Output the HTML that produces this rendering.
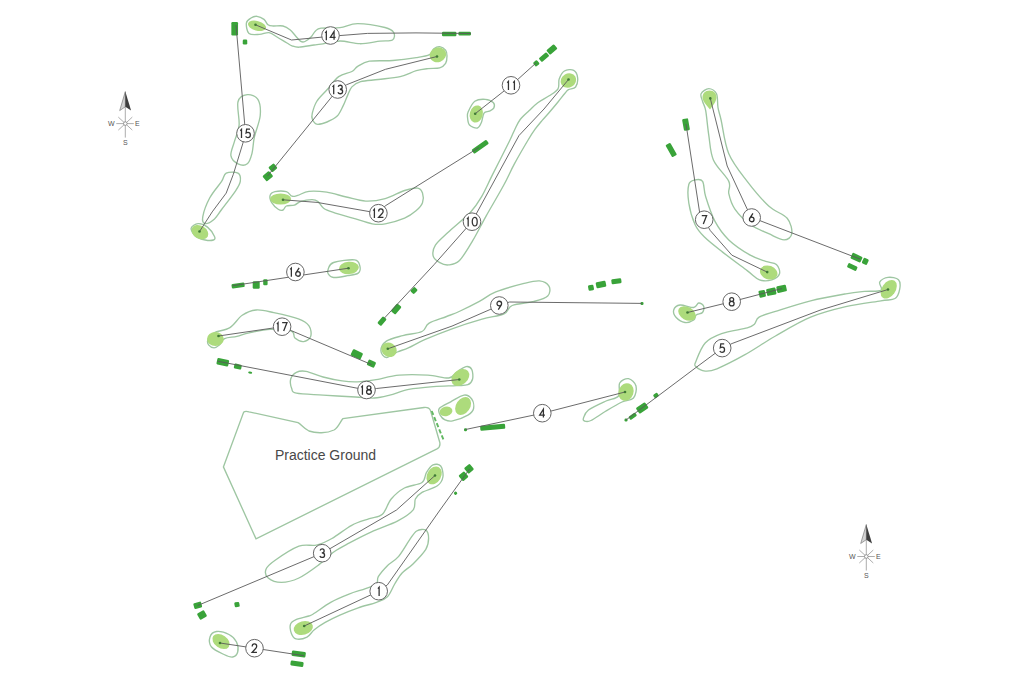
<!DOCTYPE html>
<html><head><meta charset="utf-8"><title>Golf Course Map</title>
<style>
html,body{margin:0;padding:0;background:#fff;}
body{width:1024px;height:683px;overflow:hidden;font-family:"Liberation Sans",sans-serif;}
svg{display:block;}
</style></head><body>
<svg width="1024" height="683" viewBox="0 0 1024 683">
<rect width="1024" height="683" fill="#fff"/>
<g fill="none" stroke="#9ec6a2" stroke-width="1.35">
<path d="M290.5,624.3C291.27,622.02 292.95,621.08 296,619.7C299.05,618.32 305.75,617.07 308.8,616C311.85,614.93 310.65,615.58 314.3,613.3C317.95,611.02 324.92,605.5 330.7,602.3C336.48,599.1 343.2,596.38 349,594.1C354.8,591.82 360.92,590.28 365.5,588.6C370.08,586.92 374.37,585.98 376.5,584C378.63,582.02 376.48,579.75 378.3,576.7C380.12,573.65 384.05,569.05 387.4,565.7C390.75,562.35 394.73,560.87 398.4,556.6C402.07,552.33 406.35,544.37 409.4,540.1C412.45,535.83 413.97,532.67 416.7,531C419.43,529.33 423.82,528.88 425.8,530.1C427.78,531.32 428.6,535.1 428.6,538.3C428.6,541.5 428.4,545.03 425.8,549.3C423.2,553.57 416.95,559.95 413,563.9C409.05,567.85 405.15,569.65 402.1,573C399.05,576.35 397.15,580.03 394.7,584C392.25,587.97 390.43,593.75 387.4,596.8C384.37,599.85 381.37,600.47 376.5,602.3C371.63,604.13 364.3,605.67 358.2,607.8C352.1,609.93 345.4,612.67 339.9,615.1C334.4,617.53 329.47,619.97 325.2,622.4C320.93,624.83 317.33,627.25 314.3,629.7C311.27,632.15 310.05,635.57 307,637.1C303.95,638.63 298.6,639.52 296,638.9C293.4,638.28 292.32,635.83 291.4,633.4C290.48,630.97 289.73,626.58 290.5,624.3Z"/>
<path d="M210,637C210.83,634.42 213.33,631.92 216.5,631.5C219.67,631.08 225.67,632.75 229,634.5C232.33,636.25 235.05,639.08 236.5,642C237.95,644.92 238.33,649.5 237.7,652C237.07,654.5 234.98,656.58 232.7,657C230.42,657.42 227.53,656.17 224,654.5C220.47,652.83 213.83,649.92 211.5,647C209.17,644.08 209.17,639.58 210,637Z"/>
<path d="M266,569.3C267.1,566.38 269.32,564.35 274.8,560.5C280.28,556.65 291.95,548.77 298.9,546.2C305.85,543.63 311,546.38 316.5,545.1C322,543.82 326.03,541.8 331.9,538.5C337.77,535.2 345.47,528.6 351.7,525.3C357.93,522 364.18,520.53 369.3,518.7C374.42,516.87 378.75,517.58 382.4,514.3C386.05,511.02 387.53,503.38 391.2,499C394.87,494.62 399.27,490.75 404.4,488C409.53,485.25 418.33,485.07 422,482.5C425.67,479.93 424.57,475.53 426.4,472.6C428.23,469.67 430.62,466 433,464.9C435.38,463.8 439.05,463.98 440.7,466C442.35,468.02 443.45,473.7 442.9,477C442.35,480.3 440.88,483.23 437.4,485.8C433.92,488.37 425.67,490.2 422,492.4C418.33,494.6 416.87,496.08 415.4,499C413.93,501.92 416.13,506.25 413.2,509.9C410.27,513.55 404.75,517.23 397.8,520.9C390.85,524.57 379.55,528.23 371.5,531.9C363.45,535.57 355.73,539.6 349.5,542.9C343.27,546.2 339.23,548.03 334.1,551.7C328.97,555.37 324.57,560.52 318.7,564.9C312.83,569.28 305.12,575.08 298.9,578C292.68,580.92 286.52,582.4 281.4,582.4C276.28,582.4 270.77,580.18 268.2,578C265.63,575.82 264.9,572.22 266,569.3Z"/>
<path d="M583.5,418C584.17,416.17 584.75,412.83 588.5,410C592.25,407.17 601,403.33 606,401C611,398.67 616.22,399 618.5,396C620.78,393 618.03,385.88 619.7,383C621.37,380.12 625.78,378.2 628.5,378.7C631.22,379.2 635.17,382.78 636,386C636.83,389.22 635.83,395.33 633.5,398C631.17,400.67 626.58,399.83 622,402C617.42,404.17 611.17,407.92 606,411C600.83,414.08 594.58,418.83 591,420.5C587.42,422.17 585.75,421.42 584.5,421C583.25,420.58 582.83,419.83 583.5,418Z"/>
<path d="M695.8,361.7C697.37,357.8 700.9,347.68 705.2,343C709.5,338.32 714.58,336.13 721.6,333.6C728.62,331.07 741.83,329.37 747.3,327.8C752.77,326.23 752.43,325.97 754.4,324.2C756.37,322.43 755.58,319.33 759.1,317.2C762.62,315.07 766.92,314.13 775.5,311.4C784.08,308.67 798.88,303.73 810.6,300.8C822.32,297.87 836.82,295.37 845.8,293.8C854.78,292.23 858.65,291.98 864.5,291.4C870.35,290.82 878.37,291.85 880.9,290.3C883.43,288.75 878.52,284.25 879.7,282.1C880.88,279.95 884.87,277.8 888,277.4C891.13,277 896.55,277.75 898.5,279.7C900.45,281.65 900.28,285.97 899.7,289.1C899.12,292.23 898.13,296.55 895,298.5C891.87,300.45 889.1,299.43 880.9,300.8C872.7,302.17 857.52,303.97 845.8,306.7C834.08,309.43 822.32,312.32 810.6,317.2C798.88,322.08 786.43,329.75 775.5,336C764.57,342.25 754.77,349.23 745,354.7C735.23,360.17 723.53,366.07 716.9,368.8C710.27,371.53 708.72,371.5 705.2,371.1C701.68,370.7 697.37,367.97 695.8,366.4C694.23,364.83 694.23,365.6 695.8,361.7Z"/>
<path d="M701.1,93.8C702.13,91.65 706.23,88.6 708.8,88.6C711.37,88.6 714.97,90.62 716.5,93.8C718.03,96.98 717.23,103.33 718,107.7C718.77,112.07 719.3,112.32 721.1,120C722.9,127.68 724.45,143.57 728.8,153.8C733.15,164.03 740.55,172.7 747.2,181.4C753.85,190.1 762.03,199.85 768.7,206C775.37,212.15 783.35,213.68 787.2,218.3C791.05,222.92 792.32,230.1 791.8,233.7C791.28,237.3 787.95,239.9 784.1,239.9C780.25,239.9 774.33,236.27 768.7,233.7C763.07,231.13 755.93,228.6 750.3,224.5C744.67,220.4 738.48,214.23 734.9,209.1C731.32,203.97 729.82,198.32 728.8,193.7C727.78,189.08 731.37,187.03 728.8,181.4C726.23,175.77 716.73,167.58 713.4,159.9C710.07,152.22 710.08,143.5 708.8,135.3C707.52,127.1 706.73,116.33 705.7,110.7C704.67,105.07 703.37,104.32 702.6,101.5C701.83,98.68 700.07,95.95 701.1,93.8Z"/>
<path d="M688.8,184.5C689.83,180.67 692.7,180.52 695,180C697.3,179.48 700.82,178.6 702.6,181.4C704.38,184.2 703.63,190.13 705.7,196.8C707.77,203.47 711.15,214.22 715,221.4C718.85,228.58 722.92,234.27 728.8,239.9C734.68,245.53 744.15,251.62 750.3,255.2C756.45,258.78 761.35,259.87 765.7,261.4C770.05,262.93 774.1,262.35 776.4,264.4C778.7,266.45 780.27,271.13 779.5,273.7C778.73,276.27 775.13,278.78 771.8,279.8C768.47,280.82 763.6,281.33 759.5,279.8C755.4,278.27 753.35,275.22 747.2,270.6C741.05,265.98 729.77,257.73 722.6,252.1C715.43,246.47 708.8,241.4 704.2,236.8C699.6,232.2 697.57,230.13 695,224.5C692.43,218.87 689.83,209.67 688.8,203C687.77,196.33 687.77,188.33 688.8,184.5Z"/>
<path d="M673.7,310C674.33,307.92 676.67,305.42 680,305C683.33,304.58 690.58,307.83 693.7,307.5C696.82,307.17 697.03,303.22 698.7,303C700.37,302.78 703.07,304.62 703.7,306.2C704.33,307.78 703.75,311.03 702.5,312.5C701.25,313.97 697.67,313.75 696.2,315C694.73,316.25 695.57,318.75 693.7,320C691.83,321.25 687.92,322.92 685,322.5C682.08,322.08 678.08,319.58 676.2,317.5C674.32,315.42 673.07,312.08 673.7,310Z"/>
<path d="M380.9,350.7C380.9,347.97 382.75,343.62 386.4,341.1C390.05,338.58 396.87,337.2 402.8,335.6C408.73,334 417.67,333.55 422,331.5C426.33,329.45 424.7,325.8 428.8,323.3C432.9,320.8 441.37,318.55 446.6,316.5C451.83,314.45 454.73,313.52 460.2,311C465.67,308.48 473.47,304.58 479.4,301.4C485.33,298.22 488.52,294.85 495.8,291.9C503.08,288.95 515.82,285.53 523.1,283.7C530.38,281.87 535.17,280.45 539.5,280.9C543.83,281.35 547.73,283.88 549.1,286.4C550.47,288.92 550.2,293.5 547.7,296C545.2,298.5 540.02,299.82 534.1,301.4C528.18,302.98 517.22,303.43 512.2,305.5C507.18,307.57 509.02,311.52 504,313.8C498.98,316.08 490.77,316.7 482.1,319.2C473.43,321.7 461.57,325.38 452,328.8C442.43,332.22 431.98,336.52 424.7,339.7C417.42,342.88 412.87,345.85 408.3,347.9C403.73,349.95 400.95,350.4 397.3,352C393.65,353.6 389.13,357.72 386.4,357.5C383.67,357.28 380.9,353.43 380.9,350.7Z"/>
<path d="M559.2,79C560.27,76.03 561.98,72.45 564.4,71C566.82,69.55 571.5,69.2 573.7,70.3C575.9,71.4 577.28,74.82 577.6,77.6C577.92,80.38 577.12,84.98 575.6,87C574.08,89.02 570.27,88.67 568.5,89.7C566.73,90.73 566.75,91.15 565,93.2C563.25,95.25 560.63,98.78 558,102C555.37,105.22 551.83,109.43 549.2,112.5C546.57,115.57 544.55,117.62 542.2,120.4C539.85,123.18 537.45,125.93 535.1,129.2C532.75,132.47 531.55,134.22 528.1,140C524.65,145.78 518.52,156.27 514.4,163.9C510.28,171.53 508.17,177.02 503.4,185.8C498.63,194.58 490.92,207.45 485.8,216.6C480.68,225.75 477.08,233.38 472.7,240.7C468.32,248.02 463.53,256.47 459.5,260.5C455.47,264.53 451.78,264.53 448.5,264.9C445.22,265.27 442.35,264.17 439.8,262.7C437.25,261.23 433.93,259.03 433.2,256.1C432.47,253.17 432.85,249.13 435.4,245.1C437.95,241.07 442.65,237.38 448.5,231.9C454.35,226.42 465,218.05 470.5,212.2C476,206.35 477.85,203.02 481.5,196.8C485.15,190.58 487.73,184.2 492.4,174.9C497.07,165.6 505.75,148.62 509.5,141C513.25,133.38 513.12,132.78 514.9,129.2C516.68,125.62 517.85,122.57 520.2,119.5C522.55,116.43 526.07,113.58 529,110.8C531.93,108.02 534.43,105.3 537.8,102.8C541.17,100.3 545.83,98.13 549.2,95.8C552.57,93.47 556.33,91.6 558,88.8C559.67,86 558.13,81.97 559.2,79Z"/>
<path d="M468.2,111.8C469.42,109.17 471.95,103.38 474.8,101.3C477.65,99.22 482.23,99.08 485.3,99.3C488.37,99.52 491.77,101.17 493.2,102.6C494.63,104.03 494.55,106.47 493.9,107.9C493.25,109.33 490.95,110.33 489.3,111.2C487.65,112.07 485.32,111.23 484,113.1C482.68,114.97 482.5,119.92 481.4,122.4C480.3,124.88 479.38,127.57 477.4,128C475.42,128.43 471.15,126.82 469.5,125C467.85,123.18 467.72,119.3 467.5,117.1C467.28,114.9 466.98,114.43 468.2,111.8Z"/>
<path d="M270.1,195.4C270.65,193.57 272.3,192.32 275,191.7C277.7,191.08 283.47,190.95 286.3,191.7C289.13,192.45 290.1,195.58 292,196.2C293.9,196.82 294.87,196.22 297.7,195.4C300.53,194.58 304.15,191.83 309,191.3C313.85,190.77 320.58,191.25 326.8,192.2C333.02,193.15 339.82,195.52 346.3,197C352.78,198.48 359.22,200.83 365.7,201.1C372.18,201.37 378.72,200.37 385.2,198.6C391.68,196.83 399.2,192.25 404.6,190.5C410,188.75 414.62,187.68 417.6,188.1C420.58,188.52 421.68,190.57 422.5,193C423.32,195.43 423.58,199.73 422.5,202.7C421.42,205.67 418.98,208.23 416,210.8C413.02,213.37 409.73,215.93 404.6,218.1C399.47,220.27 390.6,222.85 385.2,223.8C379.8,224.75 377.6,224.75 372.2,223.8C366.8,222.85 359.28,220 352.8,218.1C346.32,216.2 338.17,214.05 333.3,212.4C328.43,210.75 326.15,210.02 323.6,208.2C321.05,206.38 319.9,202.93 318,201.5C316.1,200.07 315.05,199.63 312.2,199.6C309.35,199.57 303.87,200.38 300.9,201.3C297.93,202.22 296.83,204.32 294.4,205.1C291.97,205.88 288.18,205.18 286.3,206C284.42,206.82 284.45,209.47 283.1,210C281.75,210.53 280.1,210.42 278.2,209.2C276.3,207.98 273.05,205 271.7,202.7C270.35,200.4 269.55,197.23 270.1,195.4Z"/>
<path d="M312.3,113.2C313.03,110.27 314.25,105.4 316.7,101.5C319.15,97.6 323.33,93.95 327,89.8C330.67,85.65 334.55,79.65 338.7,76.6C342.85,73.55 348.73,73.2 351.9,71.5C355.07,69.8 354.78,68.12 357.7,66.4C360.62,64.68 363.55,62.18 369.4,61.2C375.25,60.22 384.98,61.1 392.8,60.5C400.62,59.9 410.18,58.58 416.3,57.6C422.42,56.62 426.58,56.07 429.5,54.6C432.42,53.13 432.1,50.13 433.8,48.8C435.5,47.47 437.73,46.37 439.7,46.6C441.67,46.83 444.38,48.62 445.6,50.2C446.82,51.78 447,53.9 447,56.1C447,58.3 446.82,61.45 445.6,63.4C444.38,65.35 442.63,66.93 439.7,67.8C436.77,68.67 431.9,68.12 428,68.6C424.1,69.08 420.93,69.37 416.3,70.7C411.67,72.03 406.55,75.13 400.2,76.6C393.85,78.07 384.8,78.65 378.2,79.5C371.6,80.35 364.98,80.47 360.6,81.7C356.22,82.93 354.08,84.58 351.9,86.9C349.72,89.22 348.97,92.43 347.5,95.6C346.03,98.77 344.82,102.48 343.1,105.9C341.38,109.32 339.88,113.42 337.2,116.1C334.52,118.78 330.42,120.65 327,122C323.58,123.35 319.15,124.68 316.7,124.2C314.25,123.72 313.03,120.93 312.3,119.1C311.57,117.27 311.57,116.13 312.3,113.2Z"/>
<path d="M246.4,23C246.73,20.42 249.23,19.12 251,18C252.77,16.88 254.83,16.07 257,16.3C259.17,16.53 262.17,18 264,19.4C265.83,20.8 266.5,23.6 268,24.7C269.5,25.8 270.5,25.78 273,26C275.5,26.22 280.12,25.33 283,26C285.88,26.67 288.2,28.33 290.3,30C292.4,31.67 293.85,34.1 295.6,36C297.35,37.9 299.23,40.48 300.8,41.4C302.37,42.32 303.3,42.23 305,41.5C306.7,40.77 309.25,38.75 311,37C312.75,35.25 313.83,32.47 315.5,31C317.17,29.53 316.92,28.75 321,28.2C325.08,27.65 333.92,28.45 340,27.7C346.08,26.95 350,23.73 357.5,23.7C365,23.67 378.97,26.03 385,27.5C391.03,28.97 392.45,30.42 393.7,32.5C394.95,34.58 394.78,38.55 392.5,40C390.22,41.45 385.42,40.58 380,41.2C374.58,41.82 366.67,43.73 360,43.7C353.33,43.67 346.5,40.92 340,41C333.5,41.08 325.33,43.53 321,44.2C316.67,44.87 317.67,44.5 314,45C310.33,45.5 302.67,47.07 299,47.2C295.33,47.33 294,46.5 292,45.8C290,45.1 289.5,44.47 287,43C284.5,41.53 280,38.73 277,37C274,35.27 271.92,33.03 269,32.6C266.08,32.17 262.83,34.25 259.5,34.4C256.17,34.55 251.18,35.4 249,33.5C246.82,31.6 246.07,25.58 246.4,23Z"/>
<path d="M247.3,94.7C250.62,94.32 255.75,95.88 257.9,99.4C260.05,102.92 260.78,109.55 260.2,115.8C259.62,122.05 255.77,130.65 254.4,136.9C253.03,143.15 253.18,148.82 252,153.3C250.82,157.78 249.63,162.05 247.3,163.8C244.97,165.55 240.73,165.17 238,163.8C235.27,162.43 231.5,159.3 230.9,155.6C230.3,151.9 233.03,146.67 234.4,141.6C235.77,136.53 238.5,131.85 239.1,125.2C239.7,118.55 236.63,106.78 238,101.7C239.37,96.62 243.98,95.08 247.3,94.7Z"/>
<path d="M226.2,173.2C228.93,171.83 235.65,171.83 238,173.2C240.35,174.57 240.7,178.47 240.3,181.4C239.9,184.33 238.72,186.12 235.6,190.8C232.48,195.48 225.12,204.82 221.6,209.5C218.08,214.18 217.23,216.55 214.5,218.9C211.77,221.25 207.15,223.98 205.2,223.6C203.25,223.22 202.03,220.9 202.8,216.6C203.57,212.3 206.67,203.67 209.8,197.8C212.93,191.93 218.87,185.5 221.6,181.4C224.33,177.3 223.47,174.57 226.2,173.2Z"/>
<path d="M191.1,228.3C191.48,226.15 195.37,223.8 198.1,223.6C200.83,223.4 204.77,224.95 207.5,227.1C210.23,229.25 213.52,234.35 214.5,236.5C215.48,238.65 214.95,239.42 213.4,240C211.85,240.58 208.13,240.58 205.2,240C202.27,239.42 198.15,238.45 195.8,236.5C193.45,234.55 190.72,230.45 191.1,228.3Z"/>
<path d="M328.3,268.7C329.18,266.78 329.2,263.97 333.6,262.5C338,261.03 350.32,259.3 354.7,259.9C359.08,260.5 359.32,263.9 359.9,266.1C360.48,268.3 360.25,271.5 358.2,273.1C356.15,274.7 351.7,274.97 347.6,275.7C343.5,276.43 336.82,277.78 333.6,277.5C330.38,277.22 329.18,275.47 328.3,274C327.42,272.53 327.42,270.62 328.3,268.7Z"/>
<path d="M207.9,339.9C208.78,337.85 210.43,334.85 214.1,332.8C217.77,330.75 225.22,330.52 229.9,327.6C234.58,324.68 237.82,318.23 242.2,315.3C246.58,312.37 250.93,310.45 256.2,310C261.47,309.55 266.77,311.13 273.8,312.6C280.83,314.07 292.53,316.6 298.4,318.8C304.27,321 306.95,322.87 309,325.8C311.05,328.73 311.58,333.77 310.7,336.4C309.82,339.03 306.33,341.32 303.7,341.6C301.07,341.88 296.95,339.85 294.9,338.1C292.85,336.35 295.5,332.57 291.4,331.1C287.3,329.63 277.33,329.02 270.3,329.3C263.27,329.58 254.77,331.62 249.2,332.8C243.63,333.98 241,335.43 236.9,336.4C232.8,337.37 227.53,337.15 224.6,338.6C221.67,340.05 221.05,343.57 219.3,345.1C217.55,346.63 215.85,347.8 214.1,347.8C212.35,347.8 209.83,346.42 208.8,345.1C207.77,343.78 207.02,341.95 207.9,339.9Z"/>
<path d="M290.7,379C291.48,376.3 293.85,373.58 296.4,372.3C298.95,371.02 301.55,370.52 306,371.3C310.45,372.08 317.08,375.4 323.1,377C329.12,378.6 336.38,380.1 342.1,380.9C347.82,381.7 352,381.97 357.4,381.8C362.8,381.63 367.52,381.02 374.5,379.9C381.48,378.78 390.4,375.9 399.3,375.1C408.2,374.3 419.65,374.62 427.9,375.1C436.15,375.58 444.05,378.47 448.8,378C453.55,377.53 453.53,374.2 456.4,372.3C459.27,370.4 463.45,367.08 466,366.6C468.55,366.12 470.6,367.33 471.7,369.4C472.8,371.47 473.23,376.45 472.6,379C471.97,381.55 470.6,383.6 467.9,384.7C465.2,385.8 462.12,385.28 456.4,385.6C450.68,385.92 441.53,385.97 433.6,386.6C425.67,387.23 416.1,387.98 408.8,389.4C401.5,390.82 395.52,393.67 389.8,395.1C384.08,396.53 380.22,397.68 374.5,398C368.78,398.32 364.07,397.48 355.5,397C346.93,396.52 332.95,395.73 323.1,395.1C313.25,394.47 301.63,394.3 296.4,393.2C291.17,392.1 292.65,390.87 291.7,388.5C290.75,386.13 289.92,381.7 290.7,379Z"/>
<path d="M439.3,408.5C441.05,406.28 446.58,404.03 450.7,401.8C454.82,399.57 460.5,395.57 464,395.1C467.5,394.63 470.1,396.77 471.7,399C473.3,401.23 474.23,405.82 473.6,408.5C472.97,411.18 471.4,413.03 467.9,415.1C464.4,417.17 456.42,420.1 452.6,420.9C448.78,421.7 447.07,420.87 445,419.9C442.93,418.93 441.15,417 440.2,415.1C439.25,413.2 437.55,410.72 439.3,408.5Z"/>
<path d="M249,411.8 L298,422.6 C301,424 303,428 309,431 C316,433.6 327,433.4 334,430 C338.5,427.5 340.5,421 343,418.6 L424,407.5 Q429,407 430.5,410.5 L439.8,442.5 Q440.6,447 437,448.9 L256,538.8 L223.4,466.9 L243.6,412.3 Q245,410.8 249,411.8 Z"/>
</g>
<path d="M431.7,411 L443.6,440" stroke="#62b862" stroke-width="1.9" stroke-dasharray="4.3,2.3" fill="none"/>
<g fill="#addb7c">
<ellipse cx="303.3" cy="628" rx="9.8" ry="6.8" transform="rotate(-15 303.3 628)"/>
<ellipse cx="221" cy="641.5" rx="9.5" ry="6.5" transform="rotate(35 221 641.5)"/>
<ellipse cx="434.1" cy="475.4" rx="7" ry="9.5" transform="rotate(30 434.1 475.4)"/>
<ellipse cx="626" cy="392" rx="7.5" ry="9" transform="rotate(20 626 392)"/>
<ellipse cx="888.7" cy="289.3" rx="6.8" ry="10.3" transform="rotate(35 888.7 289.3)"/>
<ellipse cx="768.7" cy="272.5" rx="9" ry="6.8" transform="rotate(20 768.7 272.5)"/>
<ellipse cx="687" cy="313.5" rx="9.5" ry="6.5" transform="rotate(30 687 313.5)"/>
<ellipse cx="389" cy="349.8" rx="8" ry="7" transform="rotate(30 389 349.8)"/>
<ellipse cx="568.4" cy="80.5" rx="8" ry="7" transform="rotate(-30 568.4 80.5)"/>
<ellipse cx="476.3" cy="114" rx="6.5" ry="8.7" transform="rotate(15 476.3 114)"/>
<ellipse cx="280.6" cy="199" rx="10.5" ry="5.5" transform="rotate(0 280.6 199)"/>
<ellipse cx="437.9" cy="54.8" rx="8.4" ry="7.3" transform="rotate(-20 437.9 54.8)"/>
<ellipse cx="257" cy="25.8" rx="9.3" ry="4.8" transform="rotate(15 257 25.8)"/>
<ellipse cx="199.9" cy="232.2" rx="9" ry="6.5" transform="rotate(30 199.9 232.2)"/>
<ellipse cx="348.9" cy="267.9" rx="10" ry="6.2" transform="rotate(-5 348.9 267.9)"/>
<ellipse cx="215.4" cy="339" rx="8.4" ry="7" transform="rotate(0 215.4 339)"/>
<ellipse cx="460.3" cy="377.5" rx="10" ry="7.3" transform="rotate(-40 460.3 377.5)"/>
<ellipse cx="446" cy="411.4" rx="6.5" ry="4.8" transform="rotate(-15 446 411.4)"/>
<ellipse cx="463.1" cy="406" rx="7" ry="9.7" transform="rotate(35 463.1 406)"/>
<path d="M709.5,90.5 C714,90.5 716.5,93.5 716.5,97.5 C716.5,101.5 712.5,106 710,109.5 C707,105.5 702.5,101.5 702.5,97.5 C702.5,93.5 705,90.5 709.5,90.5 Z"/>
</g>
<g fill="#39a339">
<rect x="465.35" y="465.15" width="7.3" height="7.3" rx="1.2" transform="rotate(-40 469 468.8)"/>
<rect x="459.85" y="472.65" width="7.3" height="7.3" rx="1.2" transform="rotate(-40 463.5 476.3)"/>
<rect x="454.1" y="491.7" width="3" height="3" rx="1.2" transform="rotate(-40 455.6 493.2)"/>
<rect x="291.7" y="651.25" width="14" height="5.5" rx="1.2" transform="rotate(8 298.7 654)"/>
<rect x="290.5" y="661.2" width="13" height="5" rx="1.2" transform="rotate(8 297 663.7)"/>
<rect x="193.7" y="602.3" width="8" height="6" rx="1.2" transform="rotate(-15 197.7 605.3)"/>
<rect x="198" y="611.5" width="8" height="7" rx="1.2" transform="rotate(-30 202 615)"/>
<rect x="234.5" y="602.1" width="5" height="5" rx="1.2" transform="rotate(-10 237 604.6)"/>
<rect x="464" y="428.2" width="3" height="3" rx="1.2" transform="rotate(0 465.5 429.7)"/>
<rect x="480.2" y="424.8" width="25" height="5" rx="1.2" transform="rotate(-5 492.7 427.3)"/>
<rect x="653.5" y="393.5" width="5" height="4" rx="1.2" transform="rotate(-35 656 395.5)"/>
<rect x="636.7" y="404.5" width="11" height="7" rx="1.2" transform="rotate(-35 642.2 408)"/>
<rect x="628.7" y="414.2" width="8" height="4" rx="1.2" transform="rotate(-35 632.7 416.2)"/>
<rect x="624.5" y="418.5" width="3" height="3" rx="1.2" transform="rotate(0 626 420)"/>
<rect x="851" y="254.55" width="11" height="6.3" rx="1.2" transform="rotate(25 856.5 257.7)"/>
<rect x="862.55" y="258.4" width="5.5" height="6" rx="1.2" transform="rotate(25 865.3 261.4)"/>
<rect x="847.3" y="264.6" width="10" height="4.8" rx="1.2" transform="rotate(25 852.3 267)"/>
<rect x="683" y="118.6" width="6" height="12" rx="1.2" transform="rotate(-10 686 124.6)"/>
<rect x="668.45" y="143" width="5.5" height="14" rx="1.2" transform="rotate(-30 671.2 150)"/>
<rect x="758.95" y="290.3" width="6.5" height="7" rx="1.2" transform="rotate(-12 762.2 293.8)"/>
<rect x="766.55" y="288.2" width="9.5" height="7" rx="1.2" transform="rotate(-12 771.3 291.7)"/>
<rect x="776.7" y="285.4" width="9.8" height="6.8" rx="1.2" transform="rotate(-12 781.6 288.8)"/>
<rect x="640.5" y="301.9" width="3" height="3" rx="1.2" transform="rotate(0 642 303.4)"/>
<rect x="588.25" y="285.05" width="5.5" height="5.5" rx="1.2" transform="rotate(-10 591 287.8)"/>
<rect x="596" y="281.5" width="10" height="6" rx="1.2" transform="rotate(-12 601 284.5)"/>
<rect x="611.4" y="278.7" width="10" height="5" rx="1.2" transform="rotate(-8 616.4 281.2)"/>
<rect x="411" y="288" width="6" height="5" rx="1.2" transform="rotate(-45 414 290.5)"/>
<rect x="391.2" y="306" width="10" height="6" rx="1.2" transform="rotate(-50 396.2 309)"/>
<rect x="377.5" y="318.7" width="9" height="5" rx="1.2" transform="rotate(-50 382 321.2)"/>
<rect x="533.8" y="60.8" width="5" height="5" rx="1.2" transform="rotate(-40 536.3 63.3)"/>
<rect x="539" y="54.6" width="10" height="5" rx="1.2" transform="rotate(-40 544 57.1)"/>
<rect x="546.9" y="46.5" width="10" height="6" rx="1.2" transform="rotate(-40 551.9 49.5)"/>
<rect x="471.2" y="144.2" width="18" height="5" rx="1.2" transform="rotate(-35 480.2 146.7)"/>
<rect x="263.55" y="172.7" width="8.5" height="7" rx="1.2" transform="rotate(-40 267.8 176.2)"/>
<rect x="269.4" y="164.65" width="7" height="6.3" rx="1.2" transform="rotate(-40 272.9 167.8)"/>
<rect x="441.95" y="31.75" width="14.5" height="4.5" rx="1.2" transform="rotate(0 449.2 34)"/>
<rect x="458.45" y="31.7" width="12.5" height="3.8" rx="1.2" transform="rotate(0 464.7 33.6)"/>
<rect x="231.35" y="21.95" width="6.7" height="13.5" rx="1.2" transform="rotate(0 234.7 28.7)"/>
<rect x="242.75" y="39.5" width="4.5" height="5" rx="1.2" transform="rotate(0 245 42)"/>
<rect x="231.6" y="283.25" width="13" height="4.5" rx="1.2" transform="rotate(-8 238.1 285.5)"/>
<rect x="252.7" y="281.25" width="7" height="7.5" rx="1.2" transform="rotate(0 256.2 285)"/>
<rect x="263.2" y="279.2" width="4.4" height="6" rx="1.2" transform="rotate(0 265.4 282.2)"/>
<rect x="351.3" y="350.8" width="11" height="7" rx="1.2" transform="rotate(25 356.8 354.3)"/>
<rect x="367.4" y="360.6" width="8" height="6" rx="1.2" transform="rotate(25 371.4 363.6)"/>
<rect x="216.8" y="358.95" width="12" height="6.5" rx="1.2" transform="rotate(12 222.8 362.2)"/>
<rect x="234.05" y="364.1" width="7.5" height="5" rx="1.2" transform="rotate(12 237.8 366.6)"/>
<rect x="248.2" y="371.7" width="4" height="2" rx="1.2" transform="rotate(10 250.2 372.7)"/>
</g>
<g fill="none" stroke="#5a5a5a" stroke-width="0.9">
<path d="M304.2,626 L378.7,591.2 L387.4,584.9 L440,510 L469.5,469"/>
<path d="M220,643 L254.5,648.2 L304,655.7"/>
<path d="M197.7,605.5 L322.2,553.2 L396.5,510 L435,475.5"/>
<path d="M465.5,429.5 L542.3,413.3 L625,392"/>
<path d="M626,420 L696,367.5 L722.2,348.1 L732.1,343.5 L820,310.2 L888,289.5"/>
<path d="M710.3,98.4 L727.2,166 L747.2,209.1 L751.7,217.5 L852.5,256.2 L860,259"/>
<path d="M686,124 L699.6,212.2 L704.2,219.7 L710.3,230.6 L731.9,255.2 L767.2,272.1"/>
<path d="M687.5,312.5 L731.7,301.7 L782,288.5"/>
<path d="M387.8,348.8 L452,326.1 L499.3,305.5 L509.5,302 L642,303.4"/>
<path d="M568.5,79.5 L544,109 L519,135.5 L472,221.7 L434,264.7 L384,318.5"/>
<path d="M475.2,113.7 L511,85.5 L536,63"/>
<path d="M283,199.8 L317.1,202.4 L378.4,213.2 L385.2,205.9 L479,147.5"/>
<path d="M267.5,176 L337.7,89.5 L346.7,84.7 L385.5,69.3 L437,56.5"/>
<path d="M255.5,24.8 L291.5,40 L330.5,36.3 L367.5,33.4 L416,32.9 L471,33.5"/>
<path d="M236,25 L245.5,133.2 L242.7,143.9 L233.3,174.4 L226.2,193.1 L212.2,211.9 L199.5,231.5"/>
<path d="M232.5,285.7 L348.5,268.2"/>
<path d="M218.5,336 L282.1,326.7 L291.4,330.7 L371.4,364.5"/>
<path d="M217.5,361.2 L366.5,390 L376.4,388.5 L459.3,379.5"/>
</g>
<g fill="#3f7a35">
<circle cx="304.2" cy="626" r="1.3"/>
<circle cx="220" cy="643" r="1.3"/>
<circle cx="435" cy="475.5" r="1.3"/>
<circle cx="625" cy="392" r="1.3"/>
<circle cx="888" cy="289.5" r="1.3"/>
<circle cx="710.3" cy="98.4" r="1.3"/>
<circle cx="767.2" cy="272.1" r="1.3"/>
<circle cx="687.5" cy="312.5" r="1.3"/>
<circle cx="387.8" cy="348.8" r="1.3"/>
<circle cx="568.5" cy="79.5" r="1.3"/>
<circle cx="475.2" cy="113.7" r="1.3"/>
<circle cx="283" cy="199.8" r="1.3"/>
<circle cx="437" cy="56.5" r="1.3"/>
<circle cx="255.5" cy="24.8" r="1.3"/>
<circle cx="199.5" cy="231.5" r="1.3"/>
<circle cx="348.5" cy="268.2" r="1.3"/>
<circle cx="218.5" cy="336" r="1.3"/>
<circle cx="459.3" cy="379.5" r="1.3"/>
</g>
<g fill="#fff" stroke="#666666" stroke-width="1">
<circle cx="378.7" cy="591.2" r="8.8"/>
<circle cx="254.5" cy="648.2" r="8.8"/>
<circle cx="322.2" cy="553.2" r="8.8"/>
<circle cx="542.3" cy="413.2" r="8.8"/>
<circle cx="722.2" cy="348.1" r="8.8"/>
<circle cx="751.7" cy="217.5" r="8.8"/>
<circle cx="704.2" cy="219.7" r="8.8"/>
<circle cx="731.7" cy="301.7" r="8.8"/>
<circle cx="499.3" cy="305.5" r="8.8"/>
<circle cx="472" cy="221.7" r="8.8"/>
<circle cx="511" cy="85.3" r="8.8"/>
<circle cx="378.4" cy="213.2" r="8.8"/>
<circle cx="337.7" cy="89.5" r="8.8"/>
<circle cx="330.5" cy="35.5" r="8.8"/>
<circle cx="245.5" cy="133.3" r="8.8"/>
<circle cx="295.4" cy="272" r="8.8"/>
<circle cx="282.1" cy="326.7" r="8.8"/>
<circle cx="366.5" cy="390" r="8.8"/>
</g>
<g fill="none" stroke="#333333" stroke-width="1.5" stroke-linecap="butt" stroke-linejoin="miter">
<path transform="translate(376.91 586.95) scale(0.85)" d="M1.2,2.0 L2.6,0.4 L2.6,10.6"/>
<path transform="translate(251.69 643.95) scale(0.85)" d="M0.6,2.9 C0.6,1.2 1.7,0 3.2,0 C4.8,0 5.9,1.1 5.9,2.7 C5.9,3.9 5.3,4.7 4.4,5.6 L0.5,9.9 L6.2,9.9"/>
<path transform="translate(319.39 548.95) scale(0.85)" d="M0.8,1.8 C1.3,0.6 2.2,0 3.3,0 C4.7,0 5.6,1 5.6,2.4 C5.6,3.8 4.5,4.7 2.8,4.7 C4.9,4.7 6.1,5.8 6.1,7.3 C6.1,8.9 4.9,10 3.2,10 C2,10 1,9.3 0.5,8.2"/>
<path transform="translate(539.41 408.95) scale(0.85)" d="M4.7,10 L4.7,0.2 L0.3,7.3 L6.5,7.3"/>
<path transform="translate(719.44 343.85) scale(0.85)" d="M5.6,0.1 L1.6,0.1 L1.0,4.5 C1.6,4.1 2.4,3.9 3.2,3.9 C4.9,3.9 6,5.2 6,7 C6,8.8 4.7,10 3,10 C2,10 1,9.5 0.4,8.6"/>
<path transform="translate(748.85 213.25) scale(0.85)" d="M4.8,0.1 L1.2,5.8 M6.1,7.3 C6.1,8.9 4.9,10 3.4,10 C1.9,10 0.7,8.9 0.7,7.3 C0.7,5.7 1.9,4.6 3.4,4.6 C4.9,4.6 6.1,5.7 6.1,7.3 Z"/>
<path transform="translate(701.44 215.45) scale(0.85)" d="M0.4,0.1 L6.1,0.1 L2.2,10"/>
<path transform="translate(728.9 297.45) scale(0.85)" d="M5.6,2.4 C5.6,3.7 4.6,4.7 3.3,4.7 C2,4.7 1,3.7 1,2.4 C1,1.1 2,0.1 3.3,0.1 C4.6,0.1 5.6,1.1 5.6,2.4 Z M6.1,7.3 C6.1,8.8 4.9,10 3.3,10 C1.7,10 0.5,8.8 0.5,7.3 C0.5,5.8 1.7,4.7 3.3,4.7 C4.9,4.7 6.1,5.8 6.1,7.3 Z"/>
<path transform="translate(496.58 301.25) scale(0.85)" d="M5.9,2.7 C5.9,4.3 4.7,5.4 3.2,5.4 C1.7,5.4 0.5,4.3 0.5,2.7 C0.5,1.1 1.7,0 3.2,0 C4.7,0 5.9,1.1 5.9,2.7 Z M5.6,4.2 L2.0,9.9"/>
<path transform="translate(465.96 217.45) scale(0.85)" d="M1.2,2.0 L2.6,0.4 L2.6,10.6"/>
<path transform="translate(471.92 217.45) scale(0.85)" d="M3.3,0 C5,0 6.2,2.2 6.2,5 C6.2,7.8 5,10 3.3,10 C1.6,10 0.4,7.8 0.4,5 C0.4,2.2 1.6,0 3.3,0 Z"/>
<path transform="translate(506.24 81.05) scale(0.85)" d="M1.2,2.0 L2.6,0.4 L2.6,10.6"/>
<path transform="translate(512.19 81.05) scale(0.85)" d="M1.2,2.0 L2.6,0.4 L2.6,10.6"/>
<path transform="translate(372.19 208.95) scale(0.85)" d="M1.2,2.0 L2.6,0.4 L2.6,10.6"/>
<path transform="translate(378.14 208.95) scale(0.85)" d="M0.6,2.9 C0.6,1.2 1.7,0 3.2,0 C4.8,0 5.9,1.1 5.9,2.7 C5.9,3.9 5.3,4.7 4.4,5.6 L0.5,9.9 L6.2,9.9"/>
<path transform="translate(331.5 85.25) scale(0.85)" d="M1.2,2.0 L2.6,0.4 L2.6,10.6"/>
<path transform="translate(337.44 85.25) scale(0.85)" d="M0.8,1.8 C1.3,0.6 2.2,0 3.3,0 C4.7,0 5.6,1 5.6,2.4 C5.6,3.8 4.5,4.7 2.8,4.7 C4.9,4.7 6.1,5.8 6.1,7.3 C6.1,8.9 4.9,10 3.2,10 C2,10 1,9.3 0.5,8.2"/>
<path transform="translate(324.12 31.25) scale(0.85)" d="M1.2,2.0 L2.6,0.4 L2.6,10.6"/>
<path transform="translate(330.07 31.25) scale(0.85)" d="M4.7,10 L4.7,0.2 L0.3,7.3 L6.5,7.3"/>
<path transform="translate(239.29 129.05) scale(0.85)" d="M1.2,2.0 L2.6,0.4 L2.6,10.6"/>
<path transform="translate(245.25 129.05) scale(0.85)" d="M5.6,0.1 L1.6,0.1 L1.0,4.5 C1.6,4.1 2.4,3.9 3.2,3.9 C4.9,3.9 6,5.2 6,7 C6,8.8 4.7,10 3,10 C2,10 1,9.5 0.4,8.6"/>
<path transform="translate(289.15 267.75) scale(0.85)" d="M1.2,2.0 L2.6,0.4 L2.6,10.6"/>
<path transform="translate(295.1 267.75) scale(0.85)" d="M4.8,0.1 L1.2,5.8 M6.1,7.3 C6.1,8.9 4.9,10 3.4,10 C1.9,10 0.7,8.9 0.7,7.3 C0.7,5.7 1.9,4.6 3.4,4.6 C4.9,4.6 6.1,5.7 6.1,7.3 Z"/>
<path transform="translate(275.85 322.45) scale(0.85)" d="M1.2,2.0 L2.6,0.4 L2.6,10.6"/>
<path transform="translate(281.8 322.45) scale(0.85)" d="M0.4,0.1 L6.1,0.1 L2.2,10"/>
<path transform="translate(360.21 385.75) scale(0.85)" d="M1.2,2.0 L2.6,0.4 L2.6,10.6"/>
<path transform="translate(366.16 385.75) scale(0.85)" d="M5.6,2.4 C5.6,3.7 4.6,4.7 3.3,4.7 C2,4.7 1,3.7 1,2.4 C1,1.1 2,0.1 3.3,0.1 C4.6,0.1 5.6,1.1 5.6,2.4 Z M6.1,7.3 C6.1,8.8 4.9,10 3.3,10 C1.7,10 0.5,8.8 0.5,7.3 C0.5,5.8 1.7,4.7 3.3,4.7 C4.9,4.7 6.1,5.8 6.1,7.3 Z"/>
</g>
<text x="325.5" y="460" font-family="Liberation Sans, sans-serif" font-size="14" fill="#484848" text-anchor="middle">Practice Ground</text>
<g stroke="#8a8a8a" stroke-width="0.7" fill="none">
<line x1="125.3" y1="106.6" x2="125.3" y2="137.6"/>
<line x1="116.3" y1="123.6" x2="133.8" y2="123.6"/>
<line x1="118.3" y1="117.1" x2="132.3" y2="130.1"/>
<line x1="132.3" y1="117.1" x2="118.3" y2="130.1"/>
</g>
<circle cx="125.3" cy="123.6" r="1.8" fill="#fff" stroke="#777" stroke-width="0.7"/>
<path d="M125.3,91.6 L119.7,110.6 L125.3,106.8 Z" fill="#d4d4d4" stroke="#6a6a6a" stroke-width="0.6" stroke-linejoin="round"/>
<path d="M125.3,91.6 L131.1,110.6 L125.3,106.8 Z" fill="#3e3e3e"/>
<g font-family="Liberation Sans, sans-serif" font-size="7" fill="#555" text-anchor="middle">
<text x="111.3" y="126.1">W</text>
<text x="137.3" y="126.1">E</text>
<text x="125.3" y="145.1">S</text>
</g>
<g stroke="#8a8a8a" stroke-width="0.7" fill="none">
<line x1="866.3" y1="539.5" x2="866.3" y2="570.5"/>
<line x1="857.3" y1="556.5" x2="874.8" y2="556.5"/>
<line x1="859.3" y1="550" x2="873.3" y2="563"/>
<line x1="873.3" y1="550" x2="859.3" y2="563"/>
</g>
<circle cx="866.3" cy="556.5" r="1.8" fill="#fff" stroke="#777" stroke-width="0.7"/>
<path d="M866.3,524.5 L860.7,543.5 L866.3,539.7 Z" fill="#d4d4d4" stroke="#6a6a6a" stroke-width="0.6" stroke-linejoin="round"/>
<path d="M866.3,524.5 L872.1,543.5 L866.3,539.7 Z" fill="#3e3e3e"/>
<g font-family="Liberation Sans, sans-serif" font-size="7" fill="#555" text-anchor="middle">
<text x="852.3" y="559">W</text>
<text x="878.3" y="559">E</text>
<text x="866.3" y="578">S</text>
</g>
</svg>
</body></html>
